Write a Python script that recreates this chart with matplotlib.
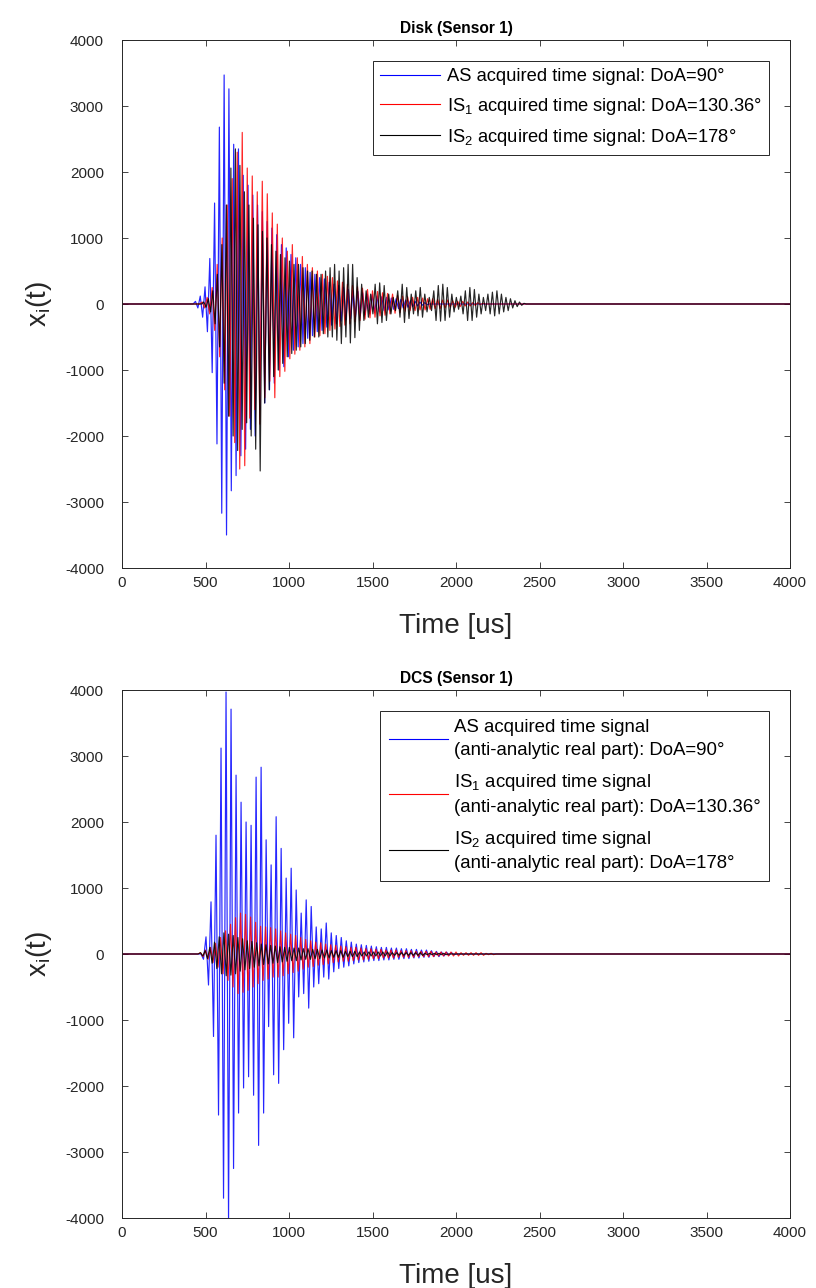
import numpy as np
import matplotlib
matplotlib.use("Agg")
import matplotlib.pyplot as plt

plt.rcParams['font.family'] = ['Liberation Sans', 'DejaVu Sans']
plt.rcParams['mathtext.fontset'] = 'custom'
plt.rcParams['mathtext.rm'] = 'Liberation Sans'
plt.rcParams['axes.unicode_minus'] = False

# ---------------- data (successive extreme values) ----------------
# Top panel: Disk (Sensor 1)
disk_as_t0, disk_as_dt = 440, 14.3
disk_as = [40, -60, 120, -200, 260, -420, 690, -1040, 1530, -2120, 2680, -3170, 3470, -3500,
           3260, -2830, 2420, -2600, 2350, -2300, 1950, -2200, 1800, -1900, 1650, -2000, 1500,
           -1600, 1400, -1500, 1250, -1300, 1150, -1200, 1050, -1000, 900, -950, 850, -800, 750,
           -700, 700, -650, 600, -600, 550, -520, 480, -480, 450, -420, 400, -400, 380, -350, 330,
           -320, 300, -300, 280, -260, 250, -240, 220, -220, 200, -200, 190, -180, 170, -160, 150,
           -150, 140, -130, 120, -120, 110, -100, 100, -90, 90, -80, 80, -70, 70, -60, 60, -50,
           50, -40, 40, -30, 30, -20, 20, -10]

disk_is1_t0, disk_is1_dt = 480, 15.0
disk_is1 = [30, -60, 100, -150, 250, -400, 600, -800, 1000, -1300, 1500, -1700, 1900, -2100,
            2300, -2500, 2600, -2450, 2060, -1730, 1940, -1600, 1700, -1820, 1860, -1420, 1670,
            -1170, 1380, -1420, 1210, -1100, 1000, -1020, 800, -830, 900, -760, 700, -700, 720,
            -650, 600, -600, 550, -500, 500, -480, 450, -450, 420, -400, 400, -380, 350, -340, 330,
            -320, 300, -300, 280, -270, 260, -250, 240, -230, 220, -210, 200, -200, 190, -180, 170,
            -170, 160, -150, 150, -140, 130, -130, 120, -110, 110, -100, 100, -100, 100, -90, 90,
            -90, 80, -80, 80, -70, 70, -70, 60, -60, 60, -50, 50, -50, 40, -40, 40, -30, 30, -30,
            20, -20, 20, -10, 10]

disk_is2_t0, disk_is2_dt = 490, 13.5
disk_is2 = [30, -50, 80, -120, 200, -300, 450, -650, 900, -1200, 1500, -1700, 2060, -2000, 2350,
            -2220, 2100, -1900, 1700, -1800, 1500, -2000, 1300, -2200, 1200, -2530, 1100, -1500,
            1000, -1300, 900, -1100, 800, -1000, 750, -900, 700, -800, 650, -750, 600, -700, 600,
            -650, 550, -600, 500, -550, 500, -500, 450, -500, 450, -450, 500, -500, 550, -500, 600,
            -550, 500, -600, 550, -500, 600, -590, 600, -510, 400, -400, 300, -250, 200, -200, 150,
            -150, 300, -300, 320, -280, 280, -250, 150, -150, 100, -100, 200, -200, 300, -280, 250,
            -220, 150, -150, 200, -180, 250, -200, 150, -120, 100, -100, 200, -250, 280, -260, 300,
            -250, 250, -200, 150, -120, 100, -80, 120, -150, 200, -250, 250, -250, 220, -200, 150,
            -150, 100, -100, 150, -150, 180, -180, 200, -150, 150, -120, 100, -100, 80, -60, 50,
            -40, 30, -20, 10]

# Bottom panel: DCS (Sensor 1)
dcs_as_t0, dcs_as_dt = 488, 15.0
dcs_as = [-80, 260, -470, 790, -1250, 1800, -2440, 3120, -3700, 3970, -4050, 3710, -3250, 2710,
          -2410, 2300, -2030, 2000, -1860, 1950, -2140, 2680, -2900, 2830, -2410, 1730, -1100,
          1350, -1830, 2080, -1960, 1600, -1450, 1150, -1050, 1300, -1270, 970, -650, 620, -600,
          820, -820, 720, -500, 410, -450, 380, -350, 470, -380, 320, -270, 280, -220, 250, -200,
          200, -180, 180, -150, 150, -130, 140, -120, 130, -110, 120, -100, 110, -100, 100, -90,
          100, -90, 90, -80, 90, -80, 80, -70, 80, -70, 70, -60, 70, -60, 60, -50, 60, -50, 50,
          -40, 40, -40, 30, -30, 30, -20, 20, -10]

dcs_is1_t0, dcs_is1_dt = 470, 15.0
dcs_is1 = [20, -40, 60, -80, 100, -130, 160, -200, 250, -300, 350, -400, 450, -500, 550, -600,
           620, -580, 600, -550, 560, -500, 480, -450, 420, -400, 410, -380, 400, -350, 380, -350,
           350, -330, 320, -300, 300, -280, 280, -260, 250, -230, 220, -200, 200, -190, 180, -170,
           170, -160, 150, -150, 140, -130, 130, -120, 120, -110, 110, -110, 100, -100, 100, -90,
           90, -90, 80, -80, 80, -70, 70, -70, 70, -60, 60, -60, 60, -60, 60, -50, 50, -50, 50,
           -50, 50, -50, 40, -40, 40, -40, 40, -40, 40, -40, 30, -30, 30, -30, 30, -30, 30, -30,
           30, -30, 20, -20, 20, -20, 20, -20, 20, -20, 20, -20, 10, -10, 10, -10]

dcs_is2_t0, dcs_is2_dt = 470, 14.0
dcs_is2 = [20, -30, 50, -70, 100, -140, 180, -220, 260, -300, 320, -330, 300, -320, 280, -300,
           250, -260, 230, -240, 200, -220, 190, -200, 170, -180, 150, -160, 140, -150, 130, -140,
           120, -130, 110, -120, 100, -110, 100, -100, 90, -100, 90, -90, 80, -80, 80, -80, 70,
           -70, 70, -70, 60, -60, 60, -60, 50, -50, 50, -50, 50, -50, 40, -40, 40, -40, 40, -40,
           30, -30, 30, -30, 30, -30, 30, -30, 30, -30, 30, -30, 30, -30, 20, -20, 20, -20, 20,
           -20, 20, -20, 20, -20, 20, -20, 20, -20, 10, -10, 10, -10, 10, -10, 10, -10, 10, -10]

x_ticks = [0, 500, 1000, 1500, 2000, 2500, 3000, 3500, 4000]
y_ticks = [-4000, -3000, -2000, -1000, 0, 1000, 2000, 3000, 4000]

titles = ["Disk (Sensor 1)", "DCS (Sensor 1)"]
top_labels = ["AS acquired time signal: DoA=90°",
              r"IS$_\mathregular{1}$ acquired time signal: DoA=130.36°",
              r"IS$_\mathregular{2}$ acquired time signal: DoA=178°"]
bot_labels = ["AS acquired time signal\n(anti-analytic real part): DoA=90°",
              "IS$_\\mathregular{1}$ acquired time signal\n(anti-analytic real part): DoA=130.36°",
              "IS$_\\mathregular{2}$ acquired time signal\n(anti-analytic real part): DoA=178°"]


def trace(t0, dt, vals, t_max=4000):
    v = np.asarray(vals, dtype=float)
    t = t0 + dt * np.arange(len(v))
    t = np.concatenate([[0, t0 - dt], t, [t[-1] + dt, t_max]])
    v = np.concatenate([[0, 0], v, [0, 0]])
    return t, v


W, H = 816, 1288
fig = plt.figure(figsize=(W / 100, H / 100), dpi=100)

left = 122 / W
width = (790 - 122) / W
ax1 = fig.add_axes([left, 1 - 568 / H, width, (568 - 40) / H])
ax2 = fig.add_axes([left, 1 - 1218 / H, width, (1218 - 690) / H])

series_top = [(disk_as_t0, disk_as_dt, disk_as, (0, 0, 1)),
              (disk_is1_t0, disk_is1_dt, disk_is1, (1, 0, 0)),
              (disk_is2_t0, disk_is2_dt, disk_is2, (0, 0, 0))]
series_bot = [(dcs_as_t0, dcs_as_dt, dcs_as, (0, 0, 1)),
              (dcs_is1_t0, dcs_is1_dt, dcs_is1, (1, 0, 0)),
              (dcs_is2_t0, dcs_is2_dt, dcs_is2, (0, 0, 0))]

axis_col = (0.15, 0.15, 0.15)
for ax, series, title, labels in [(ax1, series_top, titles[0], top_labels),
                                  (ax2, series_bot, titles[1], bot_labels)]:
    for (t0, dt, vals, col), lab in zip(series, labels):
        t, v = trace(t0, dt, vals)
        ax.plot(t, v, color=col, lw=0.85, alpha=0.85, label=lab)
    ax.set_xlim(0, 4000)
    ax.set_ylim(-4000, 4000)
    ax.set_xticks(x_ticks)
    ax.set_yticks(y_ticks)
    ax.tick_params(direction='in', top=True, right=True, length=4, width=0.6,
                   labelsize=11, colors=axis_col)
    ax.tick_params(axis='x', pad=6)
    ax.tick_params(axis='y', pad=13)
    for s in ax.spines.values():
        s.set_color(axis_col)
        s.set_linewidth(0.7)
    ax.set_title(title, fontsize=11.2, fontweight='bold', pad=5, color='black')
    ax.set_xlabel("Time [us]", fontsize=20, color=axis_col, labelpad=16)
    ax.set_ylabel(r"x$_\mathregular{i}$(t)", fontsize=20, color=axis_col, labelpad=8)

leg1 = ax1.legend(loc='upper right', bbox_to_anchor=(0.9686, 0.960), borderaxespad=0,
                  fontsize=13.2, fancybox=False, edgecolor=axis_col, framealpha=1,
                  handlelength=3.3, handletextpad=0.35, borderpad=0.4, labelspacing=0.55,
                  handleheight=0.7)
leg1.get_frame().set_linewidth(0.7)
for h in leg1.get_lines():
    h.set_alpha(1)
    h.set_linewidth(0.8)

leg2 = ax2.legend(loc='upper right', bbox_to_anchor=(0.9686, 0.960), borderaxespad=0,
                  fontsize=13.4, fancybox=False, edgecolor=axis_col, framealpha=1,
                  handlelength=3.2, handletextpad=0.3, borderpad=0.45, labelspacing=0.68)
leg2.get_frame().set_linewidth(0.7)
for txt in leg2.get_texts():
    txt.set_linespacing(1.45)
for h in leg2.get_lines():
    h.set_alpha(1)
    h.set_linewidth(0.8)

fig.savefig("out.png", dpi=100)
